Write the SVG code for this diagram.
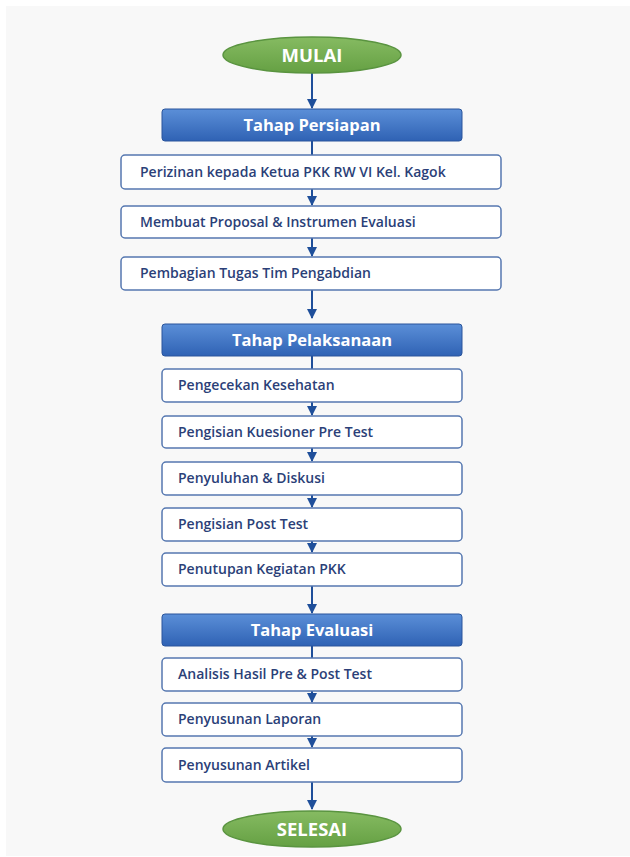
<svg xmlns="http://www.w3.org/2000/svg" width="630" height="857" viewBox="0 0 630 857">
<defs>
<linearGradient id="hdr" x1="0" y1="0" x2="0" y2="1">
<stop offset="0" stop-color="#5b8fd8"/>
<stop offset="1" stop-color="#2f62b4"/>
</linearGradient>
<linearGradient id="grn" x1="0" y1="0" x2="0" y2="1">
<stop offset="0" stop-color="#86bb62"/>
<stop offset="1" stop-color="#65a043"/>
</linearGradient>
<marker id="ah" viewBox="0 0 10 10" refX="9" refY="5" markerWidth="10" markerHeight="10" markerUnits="userSpaceOnUse" orient="auto">
<path d="M0,0 L10,5 L0,10 z" fill="#1f4f9a"/>
</marker>
<style>
.term{fill:url(#grn);stroke:#5a9440;stroke-width:1.5}
.termt{font-family:"Open Sans","Noto Sans",sans-serif;font-weight:700;font-size:18.5px;fill:#ffffff;text-anchor:middle}
.hdr{fill:url(#hdr);stroke:#2a559c;stroke-width:1}
.hdrt{font-family:"Open Sans","Noto Sans",sans-serif;font-weight:700;font-size:16.5px;fill:#ffffff;text-anchor:middle}
.box{fill:#ffffff;stroke:#5577b0;stroke-width:1.5}
.boxt{font-family:"Open Sans","Noto Sans",sans-serif;font-weight:600;font-size:14px;fill:#2b3f78}
.con{stroke:#1f4f9a;stroke-width:2;fill:none;marker-end:url(#ah)}
.ln{stroke:#1f4f9a;stroke-width:2;fill:none}
</style>
</defs>
<rect x="6" y="6" width="624" height="850" fill="#f8f8f8"/>

<g id="connectors">
<line class="con" x1="312" y1="73" x2="312" y2="108"/>
<line class="ln" x1="312" y1="141" x2="312" y2="155"/>
<line class="con" x1="312" y1="189" x2="312" y2="205"/>
<line class="con" x1="312" y1="238" x2="312" y2="256"/>
<line class="con" x1="312" y1="290" x2="312" y2="318"/>
<line class="ln" x1="312" y1="356" x2="312" y2="369"/>
<line class="con" x1="312" y1="402" x2="312" y2="415"/>
<line class="con" x1="312" y1="448" x2="312" y2="461"/>
<line class="con" x1="312" y1="495" x2="312" y2="507"/>
<line class="con" x1="312" y1="541" x2="312" y2="552"/>
<line class="con" x1="312" y1="586" x2="312" y2="613"/>
<line class="ln" x1="312" y1="646" x2="312" y2="658"/>
<line class="con" x1="312" y1="691" x2="312" y2="702"/>
<line class="con" x1="312" y1="736" x2="312" y2="747"/>
<line class="con" x1="312" y1="782" x2="312" y2="809"/>
</g>

<g id="mulai">
<ellipse class="term" cx="312" cy="55" rx="89" ry="18"/>
<text class="termt" x="312" y="62">MULAI</text>
</g>

<g id="tahap-persiapan">
<rect class="hdr" x="162" y="109" width="300" height="32" rx="3"/>
<text class="hdrt" x="312" y="131">Tahap Persiapan</text>
</g>

<g id="perizinan">
<rect class="box" x="121" y="155" width="380" height="34" rx="4"/>
<text class="boxt" x="140" y="177">Perizinan kepada Ketua PKK RW VI Kel. Kagok</text>
</g>
<g id="proposal">
<rect class="box" x="121" y="206" width="380" height="32" rx="4"/>
<text class="boxt" x="140" y="227">Membuat Proposal &amp; Instrumen Evaluasi</text>
</g>
<g id="pembagian">
<rect class="box" x="121" y="257" width="380" height="33" rx="4"/>
<text class="boxt" x="140" y="278">Pembagian Tugas Tim Pengabdian</text>
</g>

<g id="tahap-pelaksanaan">
<rect class="hdr" x="162" y="324" width="300" height="32" rx="3"/>
<text class="hdrt" x="312" y="346">Tahap Pelaksanaan</text>
</g>

<g id="pengecekan">
<rect class="box" x="162" y="369" width="300" height="33" rx="4"/>
<text class="boxt" x="178" y="390">Pengecekan Kesehatan</text>
</g>
<g id="pretest">
<rect class="box" x="162" y="416" width="300" height="32" rx="4"/>
<text class="boxt" x="178" y="437">Pengisian Kuesioner Pre Test</text>
</g>
<g id="penyuluhan">
<rect class="box" x="162" y="462" width="300" height="33" rx="4"/>
<text class="boxt" x="178" y="483">Penyuluhan &amp; Diskusi</text>
</g>
<g id="posttest">
<rect class="box" x="162" y="508" width="300" height="33" rx="4"/>
<text class="boxt" x="178" y="529">Pengisian Post Test</text>
</g>
<g id="penutupan">
<rect class="box" x="162" y="553" width="300" height="33" rx="4"/>
<text class="boxt" x="178" y="574">Penutupan Kegiatan PKK</text>
</g>

<g id="tahap-evaluasi">
<rect class="hdr" x="162" y="614" width="300" height="32" rx="3"/>
<text class="hdrt" x="312" y="636">Tahap Evaluasi</text>
</g>

<g id="analisis">
<rect class="box" x="162" y="658" width="300" height="33" rx="4"/>
<text class="boxt" x="178" y="679">Analisis Hasil Pre &amp; Post Test</text>
</g>
<g id="laporan">
<rect class="box" x="162" y="703" width="300" height="33" rx="4"/>
<text class="boxt" x="178" y="724">Penyusunan Laporan</text>
</g>
<g id="artikel">
<rect class="box" x="162" y="748" width="300" height="34" rx="4"/>
<text class="boxt" x="178" y="770">Penyusunan Artikel</text>
</g>

<g id="selesai">
<ellipse class="term" cx="312" cy="829" rx="89" ry="18"/>
<text class="termt" x="312" y="836">SELESAI</text>
</g>
</svg>
